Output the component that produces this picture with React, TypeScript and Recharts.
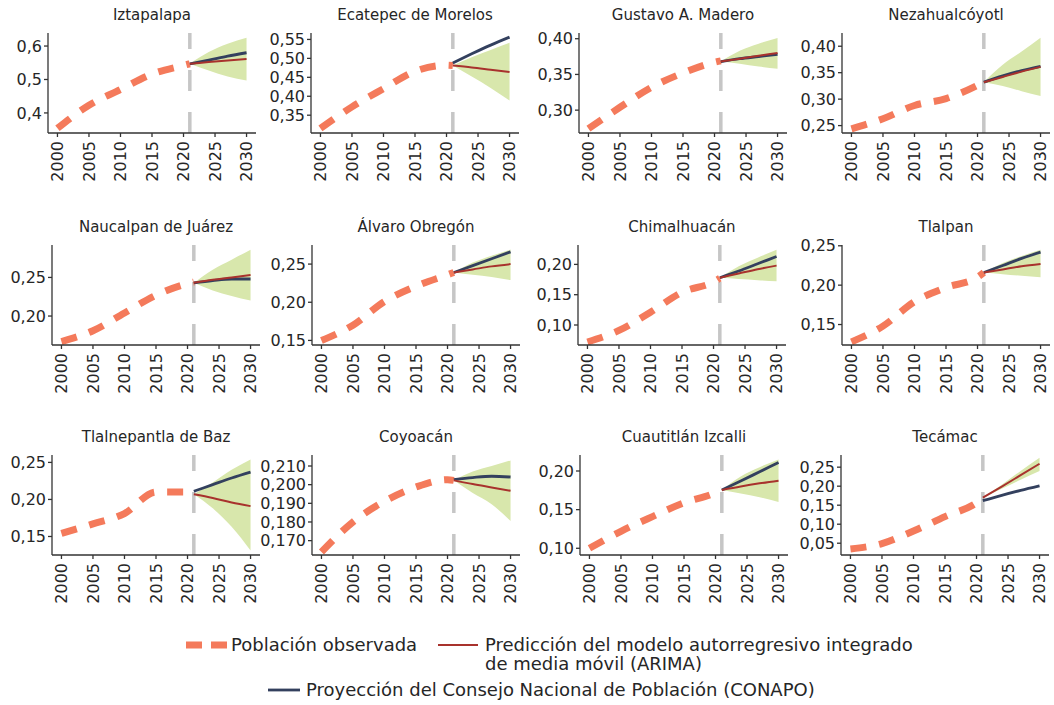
import React from "react";
import { ComposedChart, Line, Area, XAxis, YAxis, ReferenceLine } from "recharts";

const FONT = "'DejaVu Sans', Verdana, sans-serif";
const TEXT = "#262626";
const AXIS = "#333333";
const OBS_COLOR = "#F47A5B";
const ARIMA_COLOR = "#A8322D";
const CONAPO_COLOR = "#33405E";
const BAND_COLOR = "#D8E7AC";
const CUT_COLOR = "#C6C6C6";
const OBS_DASH = "16 13";

// municipios, en el orden de la cuadrícula
const municipios = [
  "Iztapalapa",
  "Ecatepec de Morelos",
  "Gustavo A. Madero",
  "Nezahualcóyotl",
  "Naucalpan de Juárez",
  "Álvaro Obregón",
  "Chimalhuacán",
  "Tlalpan",
  "Tlalnepantla de Baz",
  "Coyoacán",
  "Cuautitlán Izcalli",
  "Tecámac",
];

const obsYears = [2000, 2005, 2010, 2015, 2020, 2021];
const fcYears = [2021, 2024, 2027, 2030];
const xTicks = [2000, 2005, 2010, 2015, 2020, 2025, 2030];
const CUT_YEAR = 2021;

// población observada (millones)
const observada = [
  [0.354, 0.423, 0.47, 0.516, 0.542, 0.547],
  [0.315, 0.372, 0.42, 0.466, 0.482, 0.481],
  [0.274, 0.304, 0.332, 0.352, 0.367, 0.369],
  [0.244, 0.263, 0.288, 0.301, 0.326, 0.332],
  [0.167, 0.181, 0.204, 0.227, 0.242, 0.244],
  [0.15, 0.17, 0.201, 0.221, 0.236, 0.239],
  [0.072, 0.091, 0.121, 0.154, 0.171, 0.177],
  [0.128, 0.148, 0.179, 0.197, 0.21, 0.216],
  [0.154, 0.167, 0.181, 0.21, 0.21, 0.207],
  [0.1639, 0.18, 0.1911, 0.1987, 0.2027, 0.2023],
  [0.1, 0.122, 0.141, 0.159, 0.172, 0.176],
  [0.035, 0.049, 0.082, 0.12, 0.156, 0.168],
];

// predicción ARIMA
const arima = [
  [0.547, 0.552, 0.557, 0.561],
  [0.481, 0.476, 0.47, 0.464],
  [0.368, 0.372, 0.376, 0.38],
  [0.332, 0.342, 0.352, 0.361],
  [0.243, 0.247, 0.25, 0.253],
  [0.239, 0.243, 0.247, 0.25],
  [0.178, 0.185, 0.192, 0.198],
  [0.216, 0.22, 0.224, 0.227],
  [0.207, 0.202, 0.196, 0.191],
  [0.2023, 0.2003, 0.1985, 0.1967],
  [0.1755, 0.18, 0.184, 0.1875],
  [0.17, 0.199, 0.229, 0.259],
];

// proyección CONAPO
const conapo = [
  [0.547, 0.558, 0.57, 0.58],
  [0.488, 0.512, 0.535, 0.556],
  [0.368, 0.372, 0.375, 0.378],
  [0.332, 0.344, 0.354, 0.362],
  [0.243, 0.246, 0.248, 0.248],
  [0.239, 0.248, 0.257, 0.266],
  [0.178, 0.189, 0.201, 0.213],
  [0.216, 0.225, 0.234, 0.242],
  [0.211, 0.22, 0.229, 0.237],
  [0.2027, 0.2038, 0.2045, 0.2041],
  [0.1755, 0.187, 0.199, 0.211],
  [0.162, 0.176, 0.189, 0.201],
];

// intervalo de confianza ARIMA
const bandaInf = [
  [0.547, 0.527, 0.509, 0.497],
  [0.481, 0.452, 0.422, 0.389],
  [0.368, 0.365, 0.361, 0.358],
  [0.332, 0.325, 0.315, 0.306],
  [0.243, 0.233, 0.226, 0.22],
  [0.239, 0.236, 0.233, 0.229],
  [0.178, 0.176, 0.174, 0.172],
  [0.216, 0.214, 0.212, 0.21],
  [0.207, 0.188, 0.163, 0.131],
  [0.2023, 0.1955, 0.1895, 0.1805],
  [0.1755, 0.171, 0.166, 0.16],
  [0.17, 0.193, 0.217, 0.24],
];
const bandaSup = [
  [0.547, 0.582, 0.607, 0.625],
  [0.481, 0.503, 0.522, 0.541],
  [0.368, 0.383, 0.393, 0.401],
  [0.332, 0.365, 0.39, 0.416],
  [0.243, 0.26, 0.273, 0.286],
  [0.239, 0.252, 0.261, 0.269],
  [0.178, 0.197, 0.211, 0.224],
  [0.216, 0.228, 0.237, 0.245],
  [0.207, 0.223, 0.24, 0.254],
  [0.2023, 0.207, 0.21, 0.213],
  [0.1755, 0.193, 0.205, 0.215],
  [0.17, 0.204, 0.24, 0.275],
];

const yTicks = [
  [0.4, 0.5, 0.6],
  [0.35, 0.4, 0.45, 0.5, 0.55],
  [0.3, 0.35, 0.4],
  [0.25, 0.3, 0.35, 0.4],
  [0.2, 0.25],
  [0.15, 0.2, 0.25],
  [0.1, 0.15, 0.2],
  [0.15, 0.2, 0.25],
  [0.15, 0.2, 0.25],
  [0.17, 0.18, 0.19, 0.2, 0.21],
  [0.1, 0.15, 0.2],
  [0.05, 0.1, 0.15, 0.2, 0.25],
];
const yDomains = [
  [0.34, 0.639],
  [0.303, 0.567],
  [0.268, 0.408],
  [0.236, 0.425],
  [0.1625, 0.292],
  [0.144, 0.275],
  [0.067, 0.232],
  [0.124, 0.251],
  [0.125, 0.26],
  [0.1623, 0.2159],
  [0.0913, 0.2207],
  [0.019, 0.282],
];
const yDecimals = [1, 2, 2, 2, 2, 2, 2, 2, 2, 3, 2, 2];

// geometría de la cuadrícula
const ROW_TOP = [33, 245, 455];
const PLOT_LEFT = [48, 311, 579, 842, 52, 312, 578, 842, 52, 312, 580, 841];
const PLOT_W = 208;
const PLOT_H = 100;
const Y_AXIS_W = 70;
const TOP_PAD = 10;
const X_AXIS_H = 55;
const RIGHT_PAD = 6;

function buildRows(i: number) {
  const years = Array.from(new Set([...obsYears, ...fcYears])).sort((a, b) => a - b);
  return years.map((year) => {
    const oi = obsYears.indexOf(year);
    const fi = fcYears.indexOf(year);
    return {
      year,
      obs: oi >= 0 ? observada[i][oi] : null,
      arima: fi >= 0 ? arima[i][fi] : null,
      conapo: fi >= 0 ? conapo[i][fi] : null,
      band: fi >= 0 ? [bandaInf[i][fi], bandaSup[i][fi]] : null,
    };
  });
}

const YearTick = (props: any) => {
  const { x, y, payload } = props;
  return (
    <text
      x={x}
      y={y}
      dy="0.36em"
      transform={`rotate(-90 ${x} ${y})`}
      textAnchor="end"
      fontFamily={FONT}
      fontSize={16}
      fill={TEXT}
    >
      {payload.value}
    </text>
  );
};

function Panel({ i }: { i: number }) {
  const row = Math.floor(i / 4);
  const plotLeft = PLOT_LEFT[i];
  const plotTop = ROW_TOP[row];
  const dec = yDecimals[i];
  const data = buildRows(i);

  return (
    <>
      <div
        style={{
          position: "absolute",
          left: plotLeft - 20,
          width: PLOT_W + 40,
          top: plotTop - 27,
          textAlign: "center",
          fontFamily: FONT,
          fontSize: 15,
          lineHeight: "18px",
          color: TEXT,
          whiteSpace: "nowrap",
        }}
      >
        {municipios[i]}
      </div>
      <div style={{ position: "absolute", left: plotLeft - Y_AXIS_W, top: plotTop - TOP_PAD }}>
        <ComposedChart
          width={Y_AXIS_W + PLOT_W + RIGHT_PAD}
          height={TOP_PAD + PLOT_H + X_AXIS_H}
          data={data}
          margin={{ top: TOP_PAD, right: RIGHT_PAD, bottom: 0, left: 0 }}
        >
          <XAxis
            dataKey="year"
            type="number"
            domain={[1998.5, 2031.5]}
            ticks={xTicks}
            interval={0}
            height={X_AXIS_H}
            tickSize={4}
            tickMargin={4}
            stroke={AXIS}
            strokeWidth={1.3}
            tick={<YearTick />}
            allowDataOverflow
          />
          <YAxis
            type="number"
            width={Y_AXIS_W}
            domain={yDomains[i]}
            ticks={yTicks[i]}
            interval={0}
            allowDataOverflow
            tickSize={4}
            tickMargin={2}
            stroke={AXIS}
            strokeWidth={1.3}
            tick={{ fontFamily: FONT, fontSize: 16, fill: TEXT }}
            tickFormatter={(v: number) => v.toFixed(dec).replace(".", ",")}
          />
          <Area
            dataKey="band"
            type="monotone"
            stroke="none"
            fill={BAND_COLOR}
            fillOpacity={1}
            isAnimationActive={false}
          />
          <ReferenceLine
            x={CUT_YEAR}
            stroke={CUT_COLOR}
            strokeWidth={3.5}
            strokeDasharray="21 21"
          />
          <Line
            dataKey="obs"
            type="monotone"
            stroke={OBS_COLOR}
            strokeWidth={7}
            strokeDasharray={OBS_DASH}
            dot={false}
            isAnimationActive={false}
          />
          <Line
            dataKey="conapo"
            type="monotone"
            stroke={CONAPO_COLOR}
            strokeWidth={2.8}
            dot={false}
            isAnimationActive={false}
          />
          <Line
            dataKey="arima"
            type="monotone"
            stroke={ARIMA_COLOR}
            strokeWidth={2}
            dot={false}
            isAnimationActive={false}
          />
        </ComposedChart>
      </div>
    </>
  );
}

function LegendBlock() {
  const textStyle: React.CSSProperties = {
    position: "absolute",
    fontFamily: FONT,
    fontSize: 18,
    lineHeight: "19px",
    color: TEXT,
    whiteSpace: "nowrap",
  };
  return (
    <>
      <svg
        width={1054}
        height={90}
        style={{ position: "absolute", left: 0, top: 615 }}
      >
        <line x1={186} x2={227} y1={30} y2={30} stroke={OBS_COLOR} strokeWidth={7} strokeDasharray="16 9" />
        <line x1={438} x2={478} y1={30} y2={30} stroke={ARIMA_COLOR} strokeWidth={2} />
        <line x1={268} x2={300} y1={75} y2={75} stroke={CONAPO_COLOR} strokeWidth={2.8} />
      </svg>
      <div style={{ ...textStyle, left: 231, top: 635 }}>Población observada</div>
      <div style={{ ...textStyle, left: 485, top: 635 }}>
        Predicción del modelo autorregresivo integrado
        <br />
        de media móvil (ARIMA)
      </div>
      <div style={{ ...textStyle, left: 306, top: 680 }}>
        Proyección del Consejo Nacional de Población (CONAPO)
      </div>
    </>
  );
}

export default function App() {
  return (
    <div
      style={{
        position: "absolute",
        left: 0,
        top: 0,
        width: 1054,
        height: 705,
        background: "#ffffff",
        overflow: "hidden",
      }}
    >
      {municipios.map((_, i) => (
        <Panel key={i} i={i} />
      ))}
      <LegendBlock />
    </div>
  );
}
